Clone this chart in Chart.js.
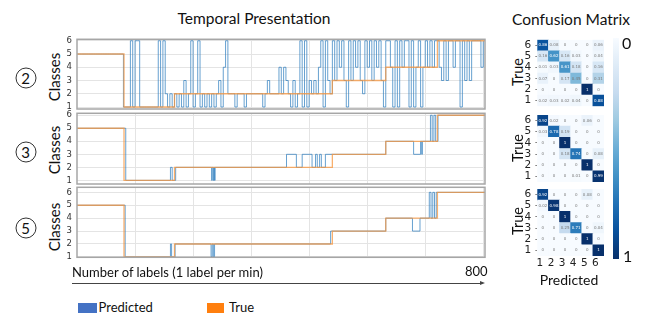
<!DOCTYPE html>
<html><head><meta charset="utf-8">
<script src="https://cdn.jsdelivr.net/npm/chart.js@4.4.1/dist/chart.umd.min.js"></script>
<style>
html,body{margin:0;padding:0;background:#fff;}
#root{position:relative;width:654px;height:316px;overflow:hidden;font-family:Lato,"Open Sans",sans-serif;color:#111;background:#fff;}
canvas{position:absolute;}
.t{position:absolute;white-space:nowrap;line-height:1;}
.cen{transform:translate(-50%,-50%);}
.rot{transform:translate(-50%,-50%) rotate(-90deg);}
.circ{position:absolute;width:21px;height:21px;border:1px solid #333;border-radius:50%;box-sizing:border-box;display:flex;align-items:center;justify-content:center;font-size:15px;line-height:1;transform:translate(-50%,-50%);}
</style></head><body><div id="root">
<div class="t cen" style="left:254px;top:19px;font-size:15.5px;">Temporal Presentation</div>
<div class="t cen" style="left:571px;top:20px;font-size:15.5px;">Confusion Matrix</div>

<div class="circ" style="left:25.5px;top:77.7px;">2</div>
<div class="circ" style="left:25.5px;top:151.7px;">3</div>
<div class="circ" style="left:25.5px;top:228.3px;">5</div>
<div class="t rot" style="left:54px;top:77px;font-size:15px;">Classes</div>
<div class="t rot" style="left:54px;top:150px;font-size:15px;">Classes</div>
<div class="t rot" style="left:54px;top:226.7px;font-size:15px;">Classes</div>

<canvas id="c2" width="435" height="78" style="left:55px;top:34px;"></canvas>
<canvas id="c3" width="435" height="79" style="left:55px;top:108px;"></canvas>
<canvas id="c5" width="435" height="78" style="left:55px;top:182px;"></canvas>

<div class="t" style="left:72px;top:266px;font-size:13px;">Number of labels (1 label per min)</div>
<div class="t" style="left:465px;top:264.5px;font-size:13px;">800</div>
<div style="position:absolute;left:72px;top:283px;width:409px;height:1px;background:#444;"></div>
<div style="position:absolute;left:480px;top:281px;width:0;height:0;border-top:2.5px solid transparent;border-bottom:2.5px solid transparent;border-left:5px solid #444;"></div>

<div style="position:absolute;left:78px;top:302.5px;width:18.5px;height:10px;background:#4472c4;"></div>
<div class="t" style="left:98.5px;top:301px;font-size:13px;">Predicted</div>
<div style="position:absolute;left:207px;top:302.5px;width:16.5px;height:10px;background:#ff7f0e;"></div>
<div class="t" style="left:229px;top:301px;font-size:13px;">True</div>

<div class="t rot" style="left:518px;top:72px;font-size:14.5px;">True</div>
<div class="t rot" style="left:518px;top:148px;font-size:14.5px;">True</div>
<div class="t rot" style="left:518px;top:221px;font-size:14.5px;">True</div>
<canvas id="m2" width="92" height="72" style="left:515px;top:37px;"></canvas>
<canvas id="m3" width="92" height="73" style="left:515px;top:112px;"></canvas>
<canvas id="m5" width="92" height="86" style="left:515px;top:186px;"></canvas>
<div class="t cen" style="left:569px;top:279.5px;font-size:14px;">Predicted</div>

<div id="cbar" style="position:absolute;left:613px;top:38px;width:6px;height:221px;"></div>
<div class="t" style="left:622px;top:35px;font-size:16px;">0</div>
<div class="t" style="left:623px;top:248px;font-size:16px;">1</div>
</div>
<script>
// ---------- data ----------
const xMax = 703;
const classTicks = [1, 2, 3, 4, 5, 6];
const xGrid = [100, 200, 300, 400, 500, 600, 700];

// ground truth (change points)
const trueX = [0, 81, 168, 440, 532, 621, 703];
const trueY = [5, 1, 2, 3, 4, 6, 6];

// panel 2: predicted, one sample every 4 labels
const pred2Step = 4;
const pred2 = [
  5,5,5,5,5,5,5,5,5,5,5,5,5,5,5,5,5,5,5,5,
  1,1,1,6,1,6,6,1,1,1,1,1,1,1,1,6,1,6,2,1,
  2,1,2,1,2,1,3,1,2,6,1,2,6,1,2,1,2,1,2,1,
  2,3,1,4,6,2,2,2,1,2,2,2,1,2,2,2,2,2,2,2,
  1,2,3,2,2,2,2,4,2,4,3,2,1,3,1,2,6,1,6,1,
  3,2,3,2,4,6,1,6,3,2,6,3,6,4,6,3,1,6,3,6,
  4,6,3,2,6,4,6,3,6,4,6,3,1,6,6,4,1,6,1,6,
  4,6,6,1,6,1,4,6,1,4,6,4,6,4,6,6,4,3,6,3,
  6,6,4,6,6,1,6,3,6,3,6,6,6,6,4,6
];

// panel 3: predicted (change points)
const pred3X = [0, 84, 161, 164, 170, 232, 233, 235, 236, 237, 238, 361, 378, 388, 405, 411, 414, 418, 421, 428, 532, 580, 592, 594, 595, 609, 612, 615, 618, 622, 703];
const pred3Y = [5, 1, 2, 1, 2, 1, 2, 1, 2, 1, 2, 3, 2, 3, 2, 3, 2, 3, 2, 3, 4, 3, 4, 3, 4, 6, 4, 6, 4, 6, 6];

// panel 5: predicted (change points)
const pred5X = [0, 83, 161, 163, 169, 231, 233, 235, 237, 437, 532, 578, 591, 607, 610, 613, 616, 619, 703];
const pred5Y = [5, 1, 2, 1, 2, 1, 2, 1, 2, 3, 4, 3, 4, 6, 4, 6, 4, 6, 6];

// confusion matrices: rows True 6..1 (top to bottom), columns Predicted 1..6
const cmCols = ['1', '2', '3', '4', '5', '6'];
const cmRows = ['6', '5', '4', '3', '2', '1'];
const cm2 = [
  [0.86, 0.08, 0, 0, 0, 0.06],
  [0.16, 0.62, 0.16, 0.03, 0, 0.04],
  [0.01, 0.03, 0.61, 0.18, 0, 0.16],
  [0.07, 0, 0.17, 0.45, 0, 0.31],
  [0, 0, 0, 0, 1, 0],
  [0.02, 0.03, 0.02, 0.04, 0, 0.88]
];
const cm3 = [
  [0.92, 0.02, 0, 0, 0.06, 0],
  [0.03, 0.78, 0.19, 0, 0, 0],
  [0, 0, 1, 0, 0, 0],
  [0, 0, 0.18, 0.74, 0, 0.08],
  [0, 0, 0, 0, 1, 0],
  [0, 0, 0, 0.01, 0, 0.99]
];
const cm5 = [
  [0.92, 0, 0, 0, 0.08, 0],
  [0.02, 0.98, 0, 0, 0, 0],
  [0, 0, 1, 0, 0, 0],
  [0, 0, 0.25, 0.71, 0, 0.04],
  [0, 0, 0, 0, 1, 0],
  [0, 0, 0, 0, 0, 1]
];

// ---------- styling helpers ----------
const bluesStops = ['#f7fbff','#deebf7','#c6dbef','#9ecae1','#6baed6','#4292c6','#2171b5','#08519c','#08306b'];
function hex(h){ return [parseInt(h.slice(1,3),16), parseInt(h.slice(3,5),16), parseInt(h.slice(5,7),16)]; }
function blues(v){
  const n = bluesStops.length - 1;
  const t = Math.max(0, Math.min(1, v)) * n;
  const i = Math.min(Math.floor(t), n - 1), f = t - i;
  const a = hex(bluesStops[i]), b = hex(bluesStops[i + 1]);
  return 'rgb(' + a.map((c, k) => Math.round(c + (b[k] - c) * f)).join(',') + ')';
}
document.getElementById('cbar').style.background = 'linear-gradient(to bottom,' + bluesStops.join(',') + ')';

const boxPlugin = { id: 'box', afterDraw(chart) {
  const { ctx, chartArea: a } = chart;
  ctx.save(); ctx.strokeStyle = '#a6a6a6'; ctx.lineWidth = 1.5;
  ctx.strokeRect(a.left, a.top, a.right - a.left, a.bottom - a.top); ctx.restore();
}};

const truePts = trueX.map((x, i) => ({ x: x, y: trueY[i] }));

function lineChart(id, predPts, yMin, yMax, padTop, padBottom) {
  new Chart(document.getElementById(id), {
    type: 'line',
    data: { datasets: [
      // first dataset is drawn on top in Chart.js
      { label: 'True', data: truePts, borderColor: 'rgba(247,150,62,0.75)', borderWidth: 1.3, pointRadius: 0, stepped: true },
      { label: 'Predicted', data: predPts, borderColor: 'rgba(45,125,190,0.72)', borderWidth: 1, pointRadius: 0, stepped: true }
    ]},
    options: {
      responsive: false, animation: false, events: [],
      layout: { padding: { top: padTop, right: 5, bottom: padBottom, left: 0 } },
      plugins: { legend: { display: false }, tooltip: { enabled: false } },
      scales: {
        x: { type: 'linear', min: 0, max: xMax,
             afterBuildTicks: s => { s.ticks = xGrid.map(v => ({ value: v })); },
             ticks: { display: false }, grid: { color: '#e4e4e4', drawTicks: false }, border: { display: false },
             afterFit: s => { s.height = 0; s.paddingLeft = 0; s.paddingRight = 0; } },
        y: { type: 'linear', min: yMin, max: yMax,
             afterBuildTicks: s => { s.ticks = classTicks.map(v => ({ value: v })); },
             ticks: { font: { family: 'DejaVu Sans', size: 8.5 }, color: '#333', padding: 5, autoSkip: false },
             grid: { color: '#e4e4e4', drawTicks: false }, border: { display: false },
             afterFit: s => { s.width = 22; s.paddingTop = 0; s.paddingBottom = 0; } }
      }
    },
    plugins: [boxPlugin]
  });
}

lineChart('c2', pred2.map((v, i) => ({ x: i * pred2Step, y: v })), 0.85, 6.11, 5.3, 3);
lineChart('c3', pred3X.map((x, i) => ({ x: x, y: pred3Y[i] })), 0.72, 6.15, 5.3, 3);
lineChart('c5', pred5X.map((x, i) => ({ x: x, y: pred5Y[i] })), 0.97, 6.39, 5.3, 2.7);

const cellText = { id: 'cellText', afterDatasetsDraw(chart) {
  const ctx = chart.ctx; ctx.save();
  ctx.font = '4px "DejaVu Sans"'; ctx.textAlign = 'center'; ctx.textBaseline = 'middle';
  chart.data.datasets.forEach((ds, di) => {
    chart.getDatasetMeta(di).data.forEach((el, j) => {
      const v = ds.values[j];
      ctx.fillStyle = v > 0.5 ? '#ffffff' : '#7a7a7a';
      ctx.fillText(String(v), el.x, (el.y + el.base) / 2);
    });
  });
  ctx.restore();
}};

function cmChart(id, cm, showX, padTop, padBottom) {
  const datasets = cmRows.map((r, k) => cmRows.length - 1 - k).map(k => {
    const row = cm[k];
    return { label: cmRows[k], data: cmCols.map(() => 1), values: row,
             backgroundColor: row.map(blues), borderWidth: 0,
             barPercentage: 1, categoryPercentage: 1 };
  });
  new Chart(document.getElementById(id), {
    type: 'bar',
    data: { labels: cmCols, datasets: datasets },
    options: {
      responsive: false, animation: false, events: [],
      layout: { padding: { top: padTop, right: 3, bottom: padBottom, left: 0 } },
      plugins: { legend: { display: false }, tooltip: { enabled: false } },
      scales: {
        x: { type: 'category', stacked: true, grid: { display: false, drawTicks: false }, border: { display: false },
             ticks: { display: showX, font: { family: 'DejaVu Sans', size: 10.5 }, color: '#222', padding: 1, labelOffset: -3, maxRotation: 0, autoSkip: false },
             afterFit: s => { s.height = showX ? 15 : 0; s.paddingLeft = 0; s.paddingRight = 0; } },
        y: { type: 'linear', stacked: true, min: 0, max: cmRows.length,
             afterBuildTicks: s => { s.ticks = cmRows.map((r, i) => ({ value: cmRows.length - 1 - i + 0.5 })); },
             ticks: { font: { family: 'DejaVu Sans', size: 10.5 }, color: '#222', padding: 4, autoSkip: false,
                      callback: v => cmRows[cmRows.length - 1 - Math.floor(v)] },
             grid: { drawOnChartArea: false, color: '#666', tickLength: 2, tickWidth: 0.8 }, border: { display: false },
             afterFit: s => { s.width = 22.3; s.paddingTop = 0; s.paddingBottom = 0; } }
      }
    },
    plugins: [cellText]
  });
}

cmChart('m2', cm2, false, 2.7, 2.7);
cmChart('m3', cm3, false, 3, 3);
cmChart('m5', cm5, true, 3, 1);
</script>
</body></html>
